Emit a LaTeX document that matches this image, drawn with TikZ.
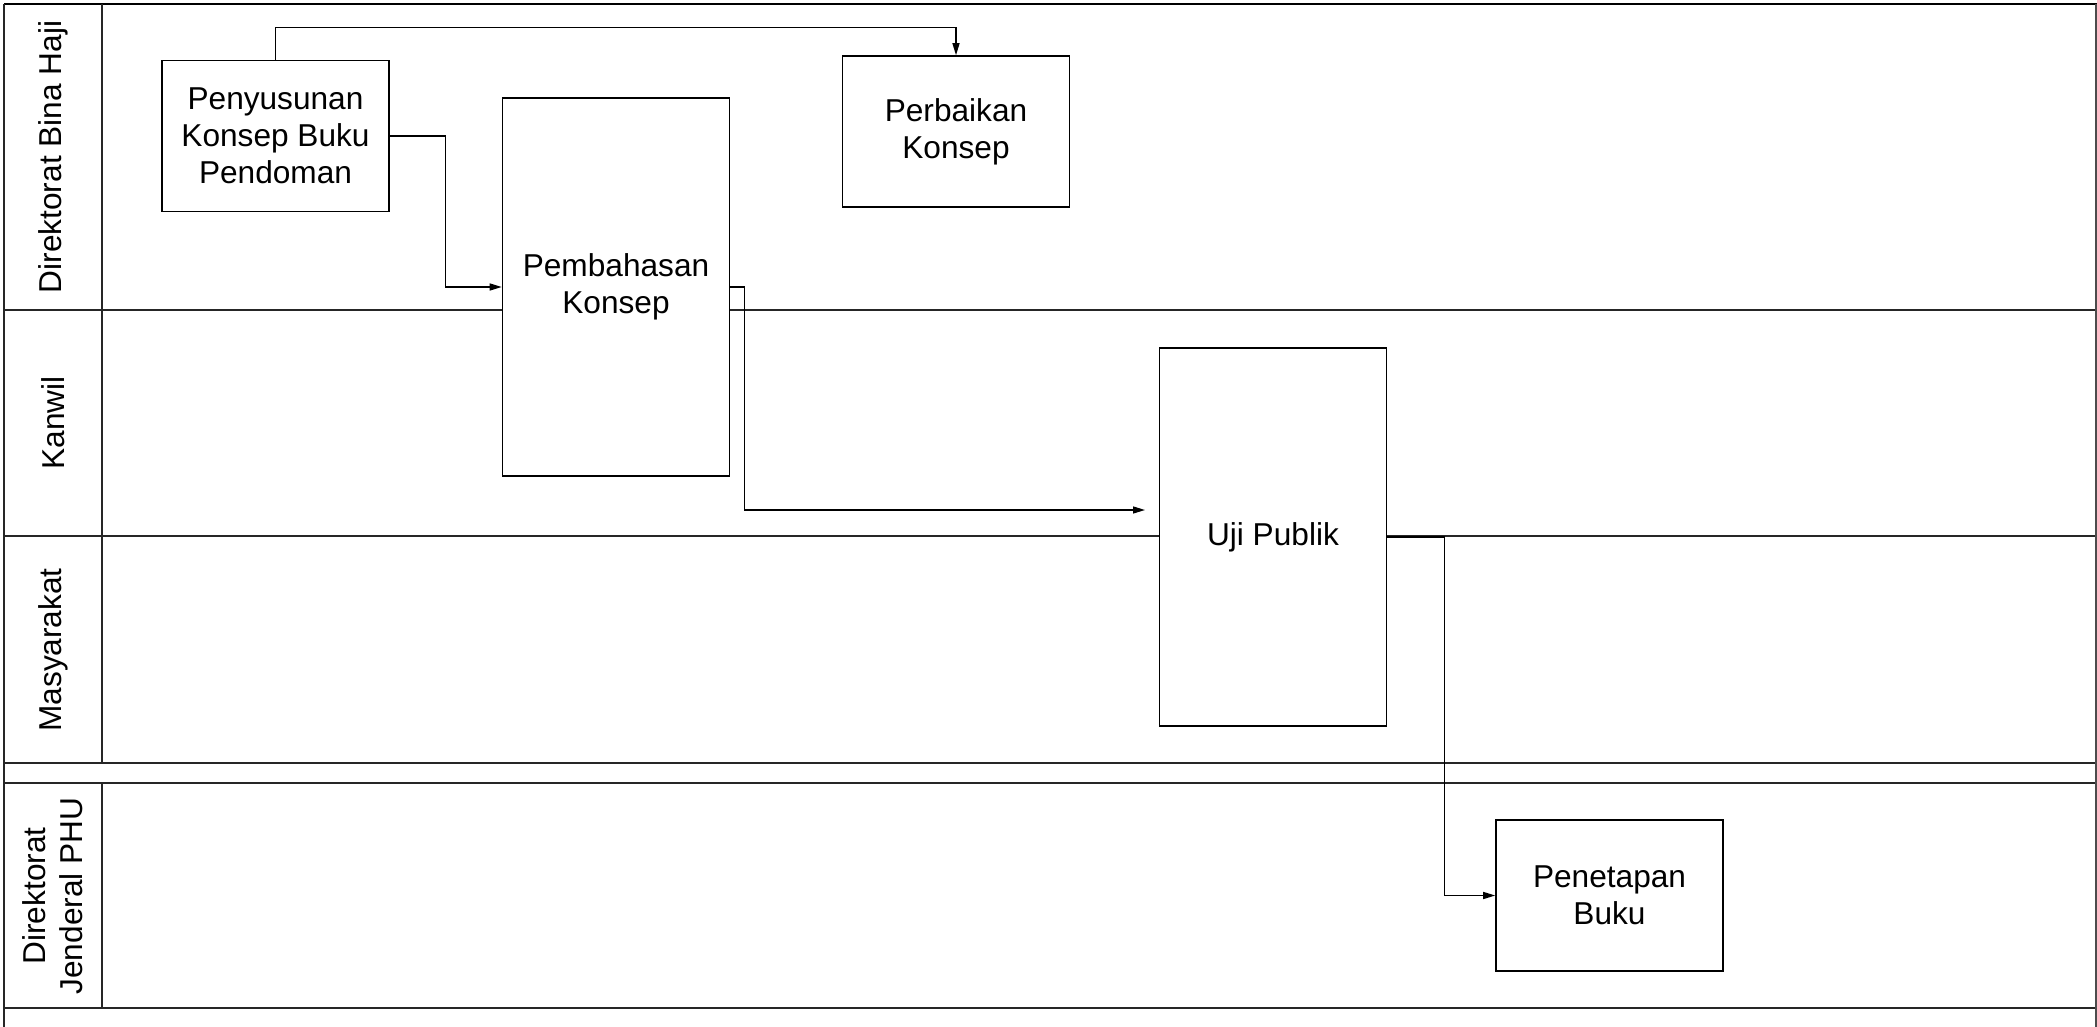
\documentclass[tikz,border=0pt]{standalone}
\usepackage{fontspec}
\setmainfont{Liberation Sans}
\usepackage{tikz}
\usetikzlibrary{arrows.meta}

\begin{document}
\begin{tikzpicture}[x=0.1mm, y=-0.1mm,
        lane/.style={line width=0.6pt, draw=black!85},
        proses/.style={draw, line width=0.45pt, fill=white, align=center,
            minimum width=22.7mm, minimum height=15.1mm, inner sep=1pt,
            font=\fontsize{9}{10.6}\selectfont},
        tinggi/.style={proses, minimum height=37.8mm},
        judul/.style={rotate=90, align=center, font=\fontsize{9}{10.6}\selectfont},
        alur/.style={line width=0.4pt, -{Triangle[length=1.2mm, width=0.7mm]}}]
        \useasboundingbox (0,0) rectangle (2097,1027);

        % Garis lajur (swimlane), satuan = piksel gambar
        \draw[line width=0.85pt] (4,4) -- (2097,4);
        \draw[lane] (4,310) -- (2096,310);
        \draw[lane] (4,536) -- (2096,536);
        \draw[lane] (4,763) -- (2096,763);
        \draw[lane] (4,783) -- (2096,783);
        \draw[lane] (4,1008) -- (2096,1008);
        \draw[lane] (4,4) -- (4,1027);
        \draw[line width=0.6pt, draw=black!70] (2096,4) -- (2096,1027);
        \draw[lane] (101.7,4) -- (101.7,763);
        \draw[lane] (101.7,783) -- (101.7,1008);

        % Nama lajur
        \node[judul] (l1) at (53,157) {Direktorat Bina Haji};
        \node[judul] (l2) at (53,423) {Kanwil};
        \node[judul] (l3) at (53,650) {Masyarakat};
        \node[judul] (l4) at (53,896) {Direktorat\\Jenderal PHU};

        % Kotak proses
        \node[proses] (penyusunan) at (275.5,136) {Penyusunan\\Konsep Buku\\Pendoman};
        \node[proses] (perbaikan) at (956,131.5) {Perbaikan\\Konsep};
        \node[tinggi] (pembahasan) at (616,287) {Pembahasan\\Konsep};
        \node[tinggi] (uji) at (1273,537) {Uji Publik};
        \node[proses] (penetapan) at (1609.5,895.5) {Penetapan\\Buku};

        % Ujung panah ke Uji Publik berhenti sebelum kotak
        \coordinate (ujimasuk) at (1145,510);

        % Alur
        \draw[alur] (penyusunan.north) -- ++(0,-32) -| (perbaikan.north);
        \draw[alur] (penyusunan.east) -- ++(56,0) |- (pembahasan.west);
        \draw[alur] (pembahasan.east) -- ++(14,0) |- (ujimasuk);
        \draw[alur] (uji.east) -- ++(57,0) |- (penetapan.west);
    \end{tikzpicture}
\end{document}
